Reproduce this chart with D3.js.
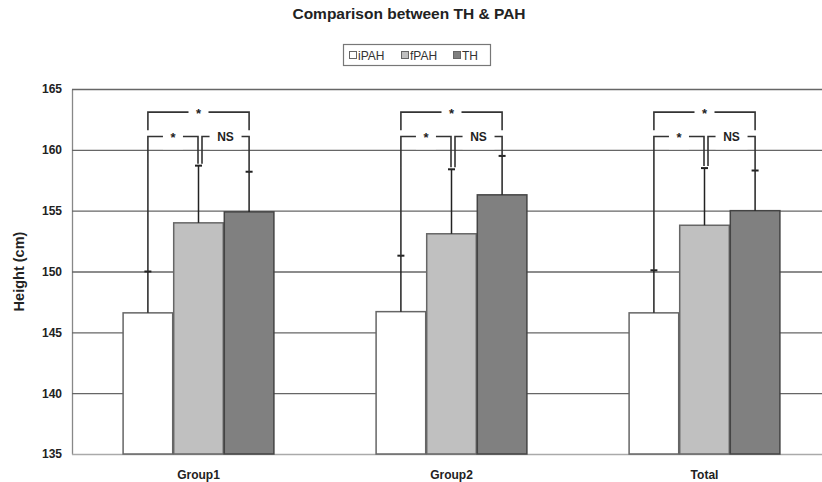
<!DOCTYPE html>
<html lang="en">
<head>
<meta charset="utf-8">
<script src="https://cdn.jsdelivr.net/npm/d3@7"></script>
<style>
  body { margin: 0; background: #fff; }
  svg { font-family: Arial, "Liberation Sans", sans-serif; display: block; }
</style>
</head>
<body>
<div id="chart"></div>
<script>
  // values
  const groups = ['Group1', 'Group2', 'Total']
  const series = ['iPAH', 'fPAH', 'TH']
  const iPAH = [146.6, 146.7, 146.6]
  const fPAH = [154.0, 153.1, 153.8]
  const TH = [154.9, 156.3, 155.0]
  // upper error (SD)
  const iPAHErr = [3.4, 4.6, 3.5]
  const fPAHErr = [4.7, 5.3, 4.7]
  const THErr = [3.3, 3.2, 3.3]
  const yTicks = [135, 140, 145, 150, 155, 160, 165]
  const seriesColors = ['#ffffff', '#c0c0c0', '#808080']
  // significance brackets
  const comparisons = [
    { from: 'iPAH', to: 'TH', level: 163.1, drop: 161.6, label: '*' },
    { from: 'iPAH', to: 'fPAH', level: 161.1, drop: null, label: '*' },
    { from: 'fPAH', to: 'TH', level: 161.1, drop: null, label: 'NS' }
  ]

  const values = { iPAH: iPAH, fPAH: fPAH, TH: TH }
  const errs = { iPAH: iPAHErr, fPAH: fPAHErr, TH: THErr }

  const w = 822, h = 482
  const plotLeft = 72, plotRight = 831, plotTop = 89, plotBottom = 454

  const svg = d3.select('#chart').append('svg')
    .attr('width', w).attr('height', h)

  const x0 = d3.scaleBand().domain(groups).range([plotLeft, plotRight])
    .paddingInner(0.4).paddingOuter(0.2)
  const x1 = d3.scaleBand().domain(series).range([0, x0.bandwidth()])
  const y = d3.scaleLinear().domain([135, 165]).range([plotBottom, plotTop])
  const color = d3.scaleOrdinal().domain(series).range(seriesColors)

  // title
  svg.append('text')
    .attr('x', 409).attr('y', 19)
    .attr('text-anchor', 'middle')
    .attr('font-weight', 'bold').attr('font-size', 15.5)
    .attr('fill', '#222')
    .text('Comparison between TH & PAH')

  // legend
  const lg = svg.append('g')
  lg.append('rect').attr('x', 343.5).attr('y', 44.5).attr('width', 147).attr('height', 21)
    .attr('fill', '#fff').attr('stroke', '#777').attr('stroke-width', 1.2)
  const legendX = [349, 401, 453]
  series.forEach(function(s, i) {
    lg.append('rect').attr('x', legendX[i] + 0.5).attr('y', 51.5).attr('width', 7).attr('height', 7)
      .attr('fill', color(s)).attr('stroke', '#666')
    lg.append('text').attr('x', legendX[i] + 9).attr('y', 59.5)
      .attr('font-size', 12).attr('fill', '#333').text(s)
  })

  // gridlines
  svg.append('g')
    .attr('transform', 'translate(' + plotLeft + ',0)')
    .call(d3.axisLeft(y).tickValues(yTicks).tickSize(-(plotRight - plotLeft)).tickSizeOuter(0).tickFormat(''))
    .call(function(g) {
      g.select('.domain').attr('stroke', '#888').attr('stroke-width', 1.3)
      g.selectAll('.tick line').attr('stroke', function(d) { return d === 135 ? '#aaa' : '#666' })
        .attr('stroke-width', 1.4)
    })

  // y tick labels
  svg.append('g')
    .attr('transform', 'translate(' + plotLeft + ',0)')
    .call(d3.axisLeft(y).tickValues(yTicks).tickSize(0).tickPadding(10))
    .call(function(g) {
      g.select('.domain').remove()
      g.selectAll('text').attr('font-size', 12).attr('font-weight', 'bold')
        .attr('fill', '#222').attr('font-family', 'Arial, "Liberation Sans", sans-serif')
    })

  // y title
  svg.append('text')
    .attr('transform', 'translate(24,' + ((plotTop + plotBottom) / 2) + ') rotate(-90)')
    .attr('text-anchor', 'middle')
    .attr('font-size', 14.5).attr('font-weight', 'bold').attr('fill', '#222')
    .text('Height (cm)')

  // bars
  const rows = groups.map(function(g, gi) {
    return series.map(function(s) {
      return { group: g, gi: gi, key: s, value: values[s][gi], err: errs[s][gi] }
    })
  })

  const gGroups = svg.selectAll('g.group')
    .data(rows).enter().append('g').attr('class', 'group')
    .attr('transform', function(d, i) { return 'translate(' + x0(groups[i]) + ',0)' })

  gGroups.selectAll('rect')
    .data(function(d) { return d })
    .enter().append('rect')
    .attr('x', function(d) { return x1(d.key) + 0.5 })
    .attr('y', function(d) { return y(d.value) })
    .attr('width', x1.bandwidth() - 1)
    .attr('height', function(d) { return plotBottom - y(d.value) })
    .attr('fill', function(d) { return color(d.key) })
    .attr('stroke', function(d) { return d.key === 'TH' ? '#444' : '#666' })
    .attr('stroke-width', 1.5)

  function cx(gi, s) { return x0(groups[gi]) + x1(s) + x1.bandwidth() / 2 }

  // error bars (upper only)
  rows.forEach(function(r) {
    r.forEach(function(d) {
      const xc = cx(d.gi, d.key)
      svg.append('line').attr('x1', xc).attr('x2', xc)
        .attr('y1', y(d.value)).attr('y2', y(d.value + d.err))
        .attr('stroke', '#222').attr('stroke-width', 1.5)
      svg.append('line').attr('x1', xc - 3.5).attr('x2', xc + 3.5)
        .attr('y1', y(d.value + d.err)).attr('y2', y(d.value + d.err))
        .attr('stroke', '#222').attr('stroke-width', 2)
    })
  })

  // significance brackets
  groups.forEach(function(g, gi) {
    comparisons.forEach(function(c) {
      let xa = cx(gi, c.from), xb = cx(gi, c.to)
      if (c.from === 'fPAH') xa += 3.5
      if (c.to === 'fPAH') xb -= 0.5
      const yl = y(c.level)
      const ya = c.drop ? y(c.drop) : y(values[c.from][gi] + errs[c.from][gi])
      const yb = c.drop ? y(c.drop) : y(values[c.to][gi] + errs[c.to][gi]) - (c.to === 'fPAH' ? 2 : 0)
      const ya2 = c.from === 'fPAH' && !c.drop ? ya - 2 : ya
      const mid = (xa + xb) / 2
      const gap = c.label === 'NS' ? 16 : 10
      // white box behind label
      if (!c.drop) {
        svg.append('rect').attr('x', mid - gap).attr('y', yl - 7).attr('width', gap * 2).attr('height', 20)
          .attr('fill', '#fff').attr('opacity', 0.7)
      }
      const path = d3.path()
      path.moveTo(xa, ya2); path.lineTo(xa, yl); path.lineTo(mid - gap, yl)
      path.moveTo(mid + gap, yl); path.lineTo(xb, yl); path.lineTo(xb, yb)
      svg.append('path').attr('d', path.toString())
        .attr('fill', 'none').attr('stroke', '#333').attr('stroke-width', 1.6)
      svg.append('text').attr('x', mid).attr('y', c.label === 'NS' ? yl + 4.5 : yl + 6)
        .attr('text-anchor', 'middle').attr('font-weight', 'bold')
        .attr('font-size', c.label === 'NS' ? 12 : 13).attr('fill', '#222')
        .text(c.label)
    })
  })

  // x labels
  svg.selectAll('text.xlab')
    .data(groups).enter().append('text').attr('class', 'xlab')
    .attr('x', function(d) { return x0(d) + x0.bandwidth() / 2 })
    .attr('y', 479)
    .attr('text-anchor', 'middle').attr('font-size', 12).attr('font-weight', 'bold')
    .attr('fill', '#222')
    .text(function(d) { return d })
</script>
</body>
</html>
